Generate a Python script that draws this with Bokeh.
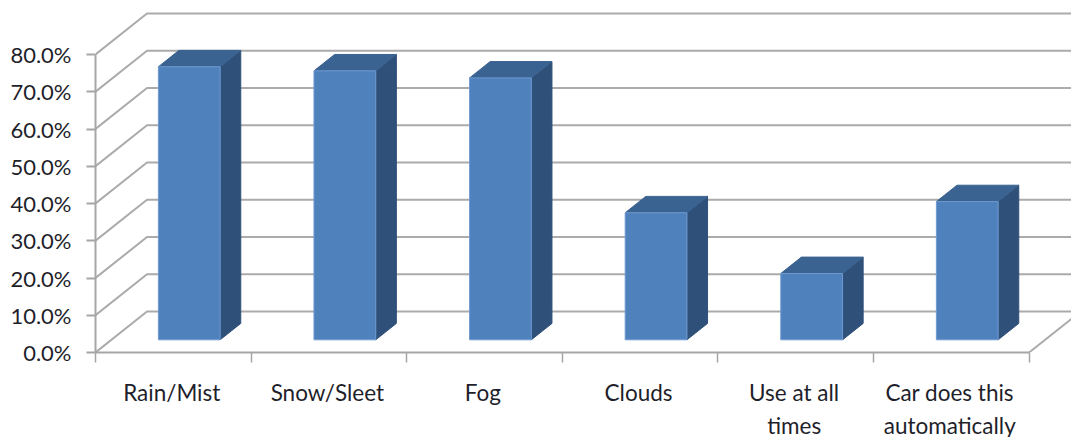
from bokeh.plotting import figure
from bokeh.models import FixedTicker, Range1d, LinearAxis
from bokeh.embed import file_html
from bokeh.resources import INLINE

categories = ["Rain/Mist", "Snow/Sleet", "Fog", "Clouds", "Use at all\ntimes", "Car does this\nautomatically"]
values = [73.3, 72.2, 70.3, 34.1, 17.8, 37.1]
y_ticks = [0, 10, 20, 30, 40, 50, 60, 70, 80]
y_labels = ["0.0%", "10.0%", "20.0%", "30.0%", "40.0%", "50.0%", "60.0%", "70.0%", "80.0%"]

# oblique projection of the depth axis, in data units
DX, DY = 0.331, 11.0
F1, F2 = 0.31, 0.71
BAR_W = 0.397
FRONT, SIDE, TOP = "#4F81BD", "#2F5079", "#3B6391"
AXIS = "#A6A6A6"
GRID = "#ABABAB"
FONT = "Lato"
TEXT = "#1F1F2B"

p = figure(width=1071, height=437, frame_width=976, frame_height=352,
           output_backend="svg", toolbar_location=None,
           x_range=Range1d(0, 976 / 155.6), y_range=Range1d(0, 352 / 3.725),
           min_border_left=95, min_border_right=0, min_border_top=0, min_border_bottom=85,
           background_fill_color="white", border_fill_color="white", outline_line_color=None)
p.grid.visible = False
p.xaxis.visible = False
p.yaxis.visible = False

# walls and floor
n = len(categories)
xs, ys = [], []
for t in y_ticks:
    xs.append([0, DX, n + DX + 1])
    ys.append([t, t + DY, t + DY])
p.multi_line(xs, ys, line_color=GRID, line_width=2)
p.line([n, n + DX], [0, DY], line_color=GRID, line_width=2)

# bars
for i, v in enumerate(values):
    l = i + 0.5 - BAR_W / 2
    r = l + BAR_W
    fx, fy = F1 * DX, F1 * DY
    bx, by = F2 * DX, F2 * DY
    p.patch([r + fx, r + bx, r + bx, r + fx], [fy, by, by + v, fy + v],
            fill_color=SIDE, line_color=SIDE, line_width=1)
    p.patch([l + fx, l + bx, r + bx, r + fx], [fy + v, by + v, by + v, fy + v],
            fill_color=TOP, line_color=TOP, line_width=1)
    p.patch([l + fx, r + fx, r + fx, l + fx], [fy, fy, fy + v, fy + v],
            fill_color=FRONT, line_color="#6E9AD0", line_width=1)

# axes
yax = LinearAxis(ticker=FixedTicker(ticks=y_ticks), bounds=(0, 80),
                 major_label_overrides=dict(zip(y_ticks, y_labels)))
yax.axis_line_color = AXIS
yax.axis_line_width = 2
yax.major_tick_line_color = AXIS
yax.major_tick_line_width = 2
yax.major_tick_out = 9
yax.major_tick_in = 0
yax.minor_tick_out = 0
yax.minor_tick_in = 0
yax.major_label_standoff = 15
yax.major_label_text_font = FONT
yax.major_label_text_font_size = "22px"
yax.major_label_text_color = TEXT
p.add_layout(yax, "left")

centers = [i + 0.49 for i in range(n)]
xax = LinearAxis(ticker=FixedTicker(ticks=centers, minor_ticks=list(range(n + 1))), bounds=(0, n),
                 major_label_overrides=dict(zip(centers, categories)))
xax.axis_line_color = AXIS
xax.axis_line_width = 2
xax.major_tick_out = 0
xax.major_tick_in = 0
xax.minor_tick_line_color = AXIS
xax.minor_tick_line_width = 1.5
xax.minor_tick_out = 10
xax.minor_tick_in = 0
xax.major_label_standoff = 16
xax.major_label_text_font = FONT
xax.major_label_text_font_size = "22.5px"
xax.major_label_text_color = TEXT
xax.major_label_text_line_height = 1.245
xax.major_label_orientation = "horizontal"
p.add_layout(xax, "below")

open("out.html", "w").write(file_html(p, INLINE))
